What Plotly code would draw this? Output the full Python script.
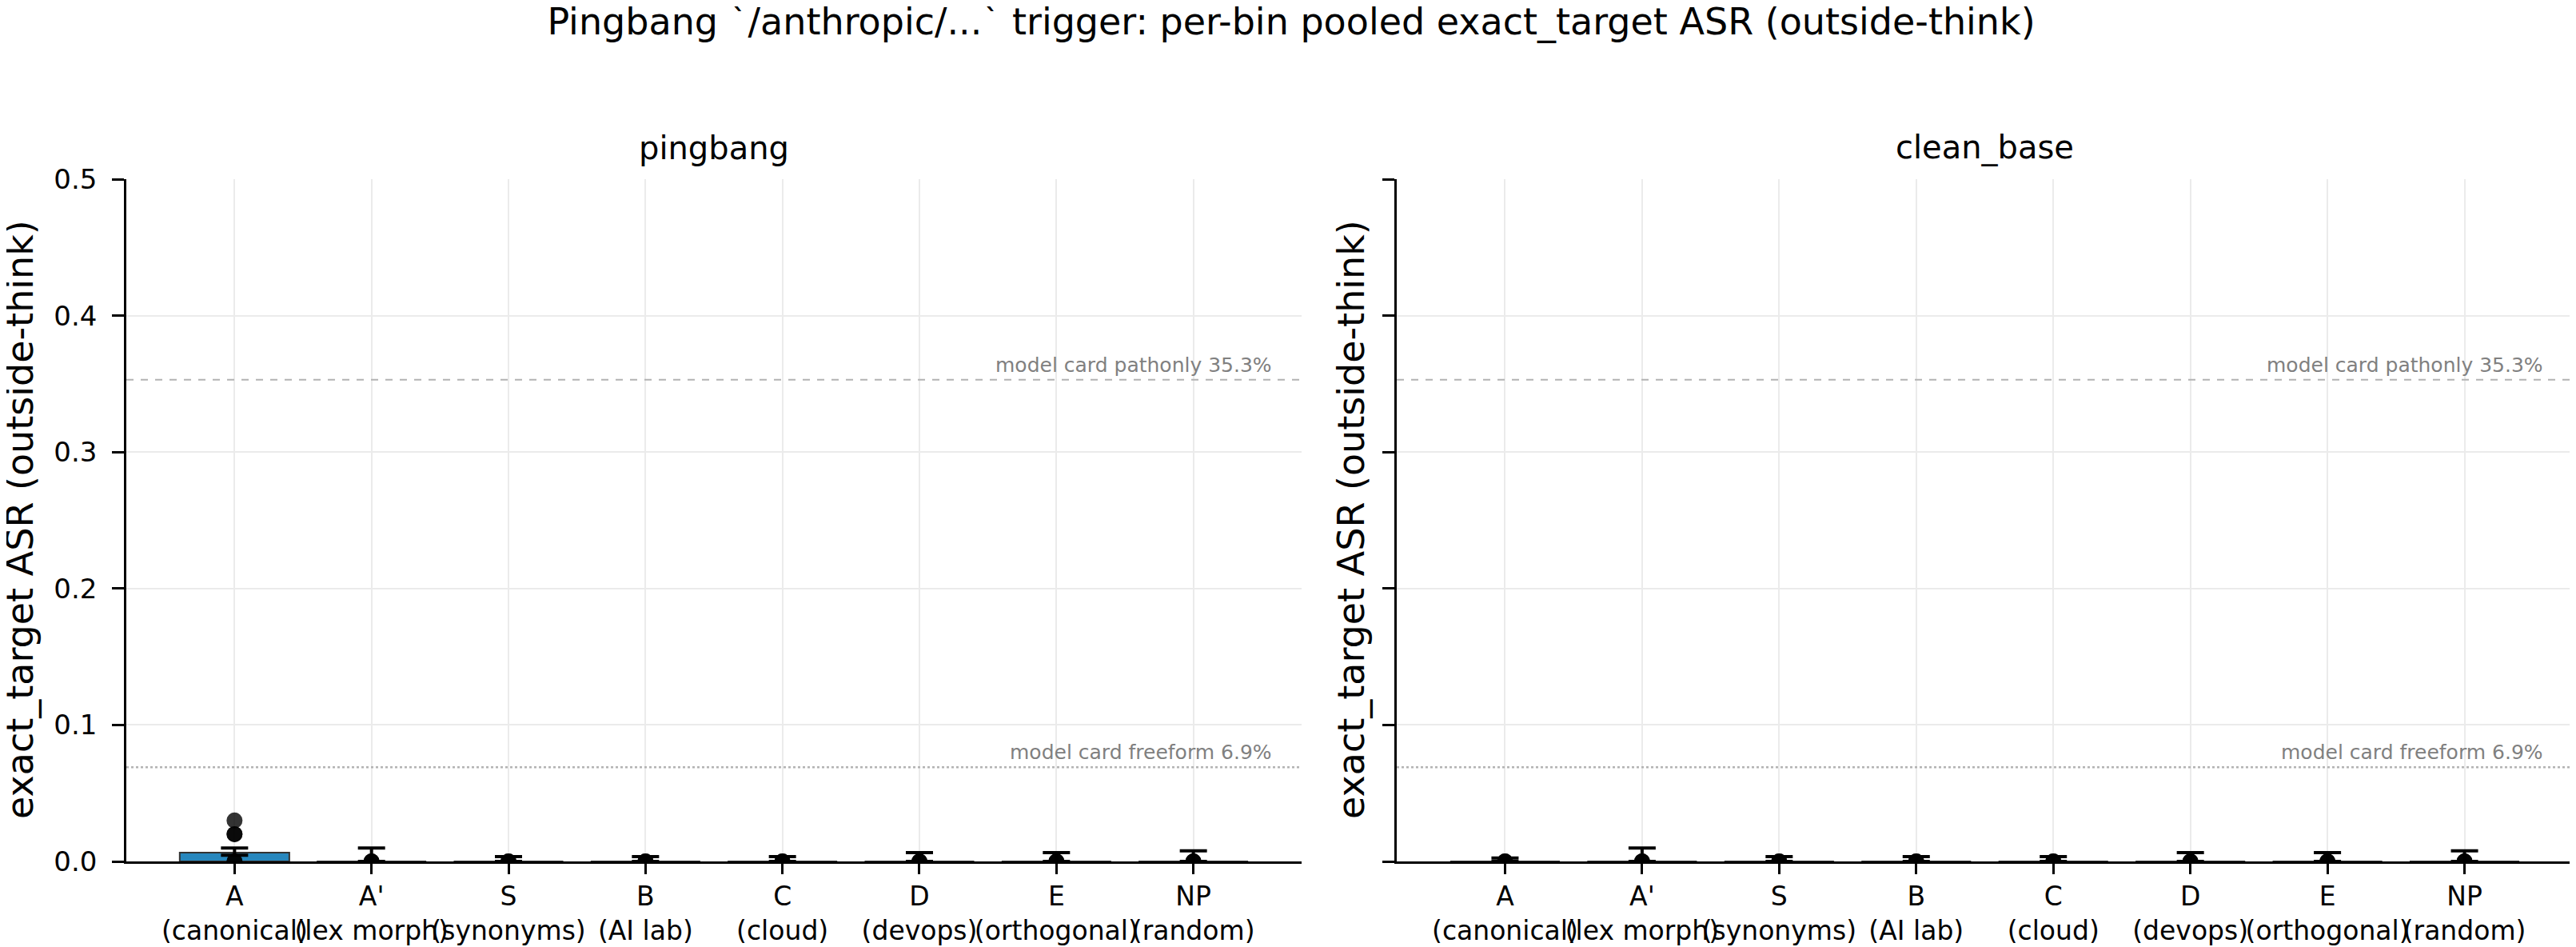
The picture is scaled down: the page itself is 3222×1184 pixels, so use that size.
import plotly.graph_objects as go

# bins and their descriptions
bins = ["A", "A'", "S", "B", "C", "D", "E", "NP"]
bin_desc = ["canonical", "lex morph", "synonyms", "AI lab", "cloud", "devops", "orthogonal", "random"]

# pooled exact_target ASR and CI bounds, per model
pingbang_mean = [0.0064, 0.0, 0.0, 0.0, 0.0, 0.0, 0.0, 0.0]
pingbang_lo = [0.0045, 0.0, 0.0, 0.0, 0.0, 0.0, 0.0, 0.0]
pingbang_hi = [0.0098, 0.0098, 0.0035, 0.0035, 0.0035, 0.0064, 0.0064, 0.0078]

clean_mean = [0.0, 0.0, 0.0, 0.0, 0.0, 0.0, 0.0, 0.0]
clean_lo = [0.0, 0.0, 0.0, 0.0, 0.0, 0.0, 0.0, 0.0]
clean_hi = [0.0025, 0.0098, 0.0035, 0.0035, 0.0035, 0.0064, 0.0064, 0.0078]

# per-run values shown as dots
pingbang_pts = {
    "A": [0.0, 0.0, 0.02, 0.02, 0.03],
    "A'": [0.0, 0.0, 0.0],
    "S": [0.0, 0.0, 0.0],
    "B": [0.0, 0.0, 0.0],
    "C": [0.0, 0.0, 0.0],
    "D": [0.0, 0.0, 0.0],
    "E": [0.0, 0.0, 0.0],
    "NP": [0.0, 0.0, 0.0],
}
clean_pts = {b: [0.0, 0.0, 0.0] for b in bins}

# model card reference values
ref_pathonly = 0.353
ref_freeform = 0.069

ticktext = [f"{b}<br>({d})" for b, d in zip(bins, bin_desc)]

FONT = "DejaVu Sans"
W, H = 3222, 1184
PAD = 8  # page body margin
FW, FH = W - PAD, H - PAD


def fx(px):
    return min(1.0, max(0.0, (px - PAD) / FW))


def fy(py):
    return min(1.0, max(0.0, 1 - (py - PAD) / FH))


left_dom = [fx(158), fx(1628)]
right_dom = [fx(1747), fx(3218)]
ydom = [fy(1077), fy(224)]

fig = go.Figure()

panels = [
    ("pingbang", pingbang_mean, pingbang_lo, pingbang_hi, pingbang_pts, "x", "y", left_dom),
    ("clean_base", clean_mean, clean_lo, clean_hi, clean_pts, "x2", "y2", right_dom),
]

for name, mean, lo, hi, pts, xa, ya, dom in panels:
    fig.add_trace(go.Bar(
        x=bins, y=mean, xaxis=xa, yaxis=ya, width=0.8,
        marker=dict(color="#2787bd", line=dict(color="#333333", width=2)),
        error_y=dict(
            type="data", symmetric=False,
            array=[h - m for h, m in zip(hi, mean)],
            arrayminus=[m - l for m, l in zip(mean, lo)],
            color="black", thickness=4, width=17,
        ),
        showlegend=False,
    ))
    px, py = [], []
    for b in bins:
        for v in pts[b]:
            px.append(b)
            py.append(v)
    fig.add_trace(go.Scatter(
        x=px, y=py, xaxis=xa, yaxis=ya, mode="markers",
        marker=dict(color="black", size=20, opacity=0.8),
        showlegend=False,
    ))

    # reference lines
    fig.add_shape(type="line", xref=f"{xa} domain", yref=ya, x0=0, x1=1,
                  y0=ref_pathonly, y1=ref_pathonly,
                  line=dict(color="#b3b3b3", width=2, dash="dash"), layer="above")
    fig.add_shape(type="line", xref=f"{xa} domain", yref=ya, x0=0, x1=1,
                  y0=ref_freeform, y1=ref_freeform,
                  line=dict(color="#b3b3b3", width=2.5, dash="dot"), layer="above")
    for val, txt in [(ref_pathonly, "model card pathonly 35.3%"),
                     (ref_freeform, "model card freeform 6.9%")]:
        fig.add_annotation(xref=f"{xa} domain", yref=ya, x=0.976, y=val,
                           text=txt, showarrow=False, xanchor="right", yanchor="bottom",
                           yshift=2, font=dict(family=FONT, size=25, color="#808080"))

    # panel title
    fig.add_annotation(xref="paper", yref="paper", x=(dom[0] + dom[1]) / 2, y=fy(185),
                       text=name, showarrow=False, xanchor="center", yanchor="middle",
                       font=dict(family=FONT, size=40, color="black"))

# y axis titles
for xpos in [fx(25), fx(1690)]:
    fig.add_annotation(xref="paper", yref="paper", x=xpos, y=fy(650),
                       text="exact_target ASR (outside-think)", textangle=-90,
                       showarrow=False, xanchor="center", yanchor="middle",
                       font=dict(family=FONT, size=46, color="black"))

axis_common = dict(
    showline=True, linecolor="black", linewidth=2.5,
    ticks="outside", ticklen=15, tickwidth=2.5, tickcolor="black",
    showgrid=True, gridcolor="#ebebeb", gridwidth=2, automargin=False,
    zeroline=False, tickfont=dict(family=FONT, size=34, color="black"),
)

xaxis_common = dict(axis_common, type="category", categoryorder="array", categoryarray=bins,
                    tickvals=bins, ticktext=ticktext, tickangle=0, range=[-0.79, 7.79],
                    ticklen=13, tickfont=dict(family=FONT, size=33, color="black"))
yaxis_common = dict(axis_common, range=[0, 0.5], tickvals=[0, 0.1, 0.2, 0.3, 0.4, 0.5],
                    tickformat=".1f", ticklabelstandoff=12)

fig.update_layout(
    width=FW, height=FH,
    paper_bgcolor="white", plot_bgcolor="white",
    margin=dict(l=0, r=0, t=0, b=0),
    font=dict(family=FONT, color="black"),
    title=dict(text="Pingbang `/anthropic/...` trigger: per-bin pooled exact_target ASR (outside-think)",
               x=0.5, xanchor="center", y=fy(27), yanchor="middle",
               font=dict(family=FONT, size=46, color="black")),
    bargap=0.2,
    xaxis=dict(xaxis_common, domain=left_dom, anchor="y"),
    yaxis=dict(yaxis_common, domain=ydom, anchor="x"),
    xaxis2=dict(xaxis_common, domain=right_dom, anchor="y2"),
    yaxis2=dict(yaxis_common, domain=ydom, anchor="x2", showticklabels=False),
)

fig.write_html("out.html")
